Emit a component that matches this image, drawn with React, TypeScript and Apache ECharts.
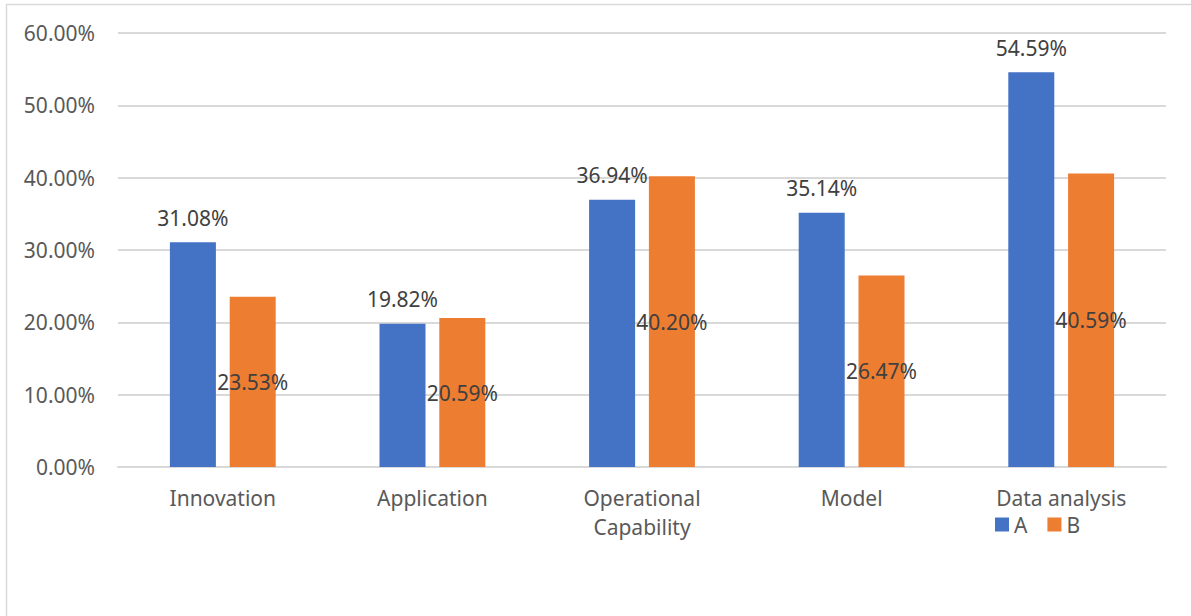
import React, { useEffect, useRef } from "react";
import * as echarts from "echarts";

const categories = ["Innovation", "Application", "Operational\nCapability", "Model", "Data analysis"];
const seriesA = [31.08, 19.82, 36.94, 35.14, 54.59];
const seriesB = [23.53, 20.59, 40.2, 26.47, 40.59];
const seriesNames = ["A", "B"];

const FONT = "Noto Sans";
const FS = 21;

export default function App() {
  const ref = useRef<HTMLDivElement>(null);

  useEffect(() => {
    document.body.style.margin = "0";
    const chart = echarts.init(ref.current!, null, { renderer: "svg" });
    const pct = (v: number) => v.toFixed(2) + "%";
    chart.setOption({
      animation: false,
      backgroundColor: "#ffffff",
      textStyle: { fontFamily: FONT },
      graphic: [
        {
          type: "rect",
          shape: { x: 6.5, y: 4.5, width: 1200, height: 700 },
          style: { fill: "none", stroke: "#d9d9d9", lineWidth: 1.5 },
          silent: true,
        },
      ],
      grid: { left: 118, right: 25, top: 33, bottom: 149, containLabel: false },
      legend: {
        data: seriesNames,
        left: 990,
        top: 509,
        itemWidth: 14,
        itemHeight: 14,
        itemGap: 20,
        icon: "rect",
        textStyle: { fontFamily: FONT, fontSize: FS, color: "#595959" },
      },
      xAxis: {
        type: "category",
        data: categories,
        axisTick: { show: false },
        axisLine: { lineStyle: { color: "#d9d9d9", width: 2 } },
        axisLabel: {
          fontFamily: FONT,
          fontSize: FS,
          color: "#595959",
          margin: 16,
          lineHeight: 29,
          interval: 0,
        },
      },
      yAxis: {
        type: "value",
        min: 0,
        max: 60,
        interval: 10,
        axisLine: { show: false },
        axisTick: { show: false },
        splitLine: { lineStyle: { color: "#d9d9d9", width: 2 } },
        axisLabel: {
          fontFamily: FONT,
          fontSize: FS,
          color: "#595959",
          margin: 23,
          formatter: (v: number) => pct(v),
        },
      },
      series: [
        {
          name: seriesNames[0],
          type: "bar",
          data: seriesA,
          barWidth: 46,
          barGap: "30%",
          itemStyle: { color: "#4472C4" },
          label: {
            show: true,
            position: "top",
            distance: 14,
            fontFamily: FONT,
            fontSize: FS,
            color: "#404040",
            formatter: (p: any) => pct(p.value),
          },
        },
        {
          name: seriesNames[1],
          type: "bar",
          data: seriesB,
          barWidth: 46,
          itemStyle: { color: "#ED7D31" },
          label: {
            show: true,
            position: "inside",
            fontFamily: FONT,
            fontSize: FS,
            color: "#404040",
            textBorderWidth: 0,
            formatter: (p: any) => pct(p.value),
          },
        },
      ],
    });
    return () => chart.dispose();
  }, []);

  return (
    <div
      ref={ref}
      style={{ position: "absolute", left: 0, top: 0, width: 1191, height: 616 }}
    />
  );
}
